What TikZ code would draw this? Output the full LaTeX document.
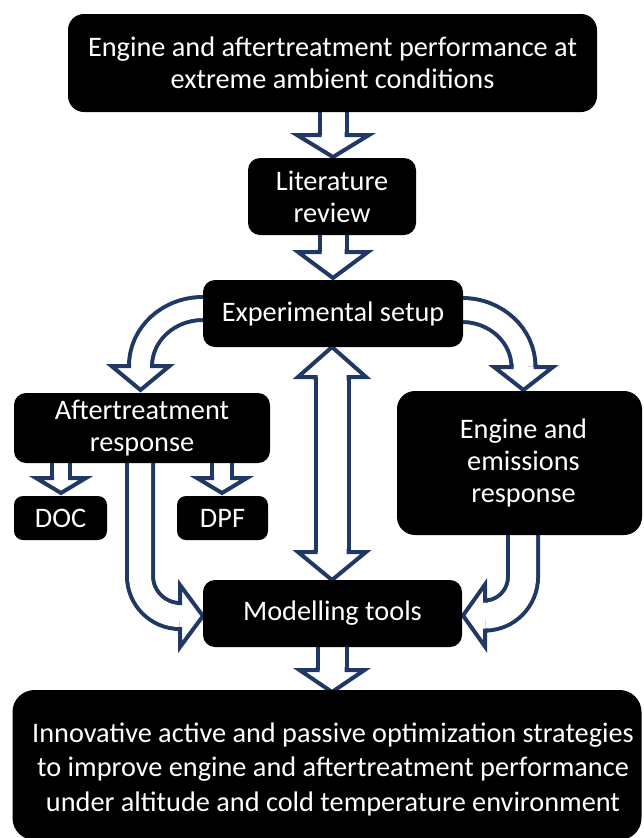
\documentclass[tikz,border=0pt]{standalone}
\usepackage{fontspec}
\setmainfont{Carlito}
\usetikzlibrary{calc}
\definecolor{navy}{RGB}{32,56,100}
\tikzset{
  boxtext/.style={text=white, inner sep=0pt, align=center, font=\fontsize{28.3}{32}\selectfont},
  box/.style={boxtext, fill=black, rounded corners=12pt},
  shaft/.style={draw=navy, line width=4pt, double=white, double distance=#1},
  wing/.style={draw=navy, line width=4pt, miter limit=10}
}
% hollow arrow head: base point, direction, head half-width, head length, shaft half-width
\newcommand\blockhead[5]{%
  \begin{scope}[shift={#1}, rotate=#2]
    \fill[white] (0,-#3) -- (#4,0) -- (0,#3) -- cycle;
    \draw[wing] (-3,{#5-2}) -- (0,{#5-2}) -- (0,#3) -- (#4,0) -- (0,-#3) -- (0,{-(#5-2)}) -- (-3,{-(#5-2)});
  \end{scope}}
\begin{document}
\begin{tikzpicture}[x=1pt, y=-1pt]
\useasboundingbox (0,0) rectangle (643,838);

% straight arrows down the middle
\draw[shaft=23pt] (333,105) -- (333,135);
\blockhead{(333,135)}{-90}{36}{22}{15.5}
\draw[shaft=23pt] (333,230) -- (333,252);
\blockhead{(333,252)}{-90}{35}{26}{15.5}

% curved arrows out of the experimental setup
\draw[shaft=19pt] (208,308.5) -- (203,308.5) .. controls (168.5,308.5) and (140.5,334) .. (140.5,366);
\blockhead{(140.5,366)}{-90}{29}{24}{13.5}
\draw[shaft=20pt] (457,310) -- (462,310) .. controls (496,310) and (523.5,335.5) .. (523.5,367);
\blockhead{(523.5,367)}{-90}{29.5}{23}{14}

% double arrow between setup and modelling
\draw[shaft=29pt] (332,377) -- (332,552);
\blockhead{(332,377)}{90}{34}{30}{18.5}
\blockhead{(332,552)}{-90}{34}{28}{18.5}

% small arrows to DOC and DPF
\draw[shaft=14pt] (61,455) -- (61,478);
\blockhead{(61,478)}{-90}{25}{15}{11}
\draw[shaft=16pt] (222,455) -- (222,478);
\blockhead{(222,478)}{-90}{25}{15}{12}

% bent arrows into modelling tools
\draw[shaft=22pt] (140,455) -- (140,576) .. controls (140,598) and (158,616) .. (180,616);
\blockhead{(180,616)}{0}{31}{23}{15}
\draw[shaft=26pt] (523,528) -- (523,577) .. controls (523,598) and (506,615.5) .. (485,615.5);
\blockhead{(485,615.5)}{180}{31}{22}{17}

% arrow to the final box
\draw[shaft=25pt] (332,640) -- (332,670);
\blockhead{(332,670)}{-90}{32.5}{22}{16.5}

% boxes
\node[box, minimum width=529pt, minimum height=98pt, rounded corners=16pt] (top) at (332.5,63)
  {Engine and aftertreatment performance at\\extreme ambient conditions};
\node[box, minimum width=168pt, minimum height=77pt] (lit) at (332,196.5) {Literature\\review};
\node[box, minimum width=260pt, minimum height=67pt] (exp) at (333,313.5) {Experimental setup};
\node[box, minimum width=256pt, minimum height=70pt] (aft) at (142,428) {Aftertreatment\\response};
\node[box, minimum width=245pt, minimum height=144pt, rounded corners=18pt] (eng) at (519.5,463) {};
\node[boxtext] (engtext) at ($(eng.center)+(4,0)$) {Engine and\\emissions\\response};
\node[box, minimum width=93pt, minimum height=44pt, rounded corners=9pt] (doc) at (60.5,518) {DOC};
\node[box, minimum width=91pt, minimum height=44pt, rounded corners=9pt] (dpf) at (222.5,518) {DPF};
\node[box, minimum width=259pt, minimum height=67pt] (mod) at (332.5,613.5) {Modelling tools};
\node[box, minimum width=629pt, minimum height=150pt, rounded corners=22pt] (bot) at (327,765) {};
\node[boxtext, font=\fontsize{28.3}{34.5}\selectfont] (bottext) at ($(bot.center)+(6,4)$)
  {Innovative active and passive optimization strategies\\to improve engine and aftertreatment performance\\under altitude and cold temperature environment};
\end{tikzpicture}
\end{document}
